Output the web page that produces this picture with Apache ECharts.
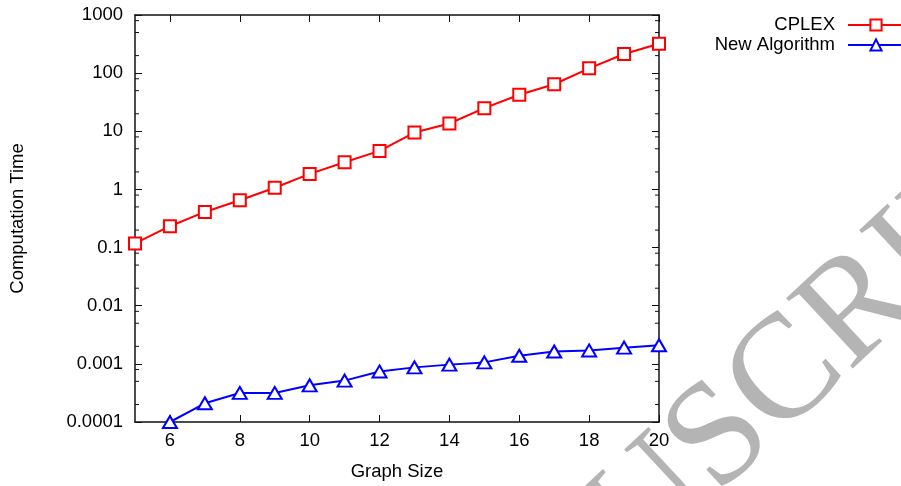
<!DOCTYPE html>
<html>
<head>
<meta charset="utf-8">
<script src="https://cdn.jsdelivr.net/npm/echarts@6/dist/echarts.min.js"></script>
<style>
html,body{margin:0;padding:0;background:#fff;}
#c{width:901px;height:486px;}
</style>
</head>
<body>
<div id="c"></div>
<script>
const graphSize = [5,6,7,8,9,10,11,12,13,14,15,16,17,18,19,20];
const cplexTime = [0.118,0.233,0.41,0.65,1.07,1.85,2.94,4.6,9.5,13.6,25,42.5,64.5,121,213,320];
const newAlgTime = [null,0.0001,0.00021,0.000316,0.000316,0.000427,0.000515,0.00074,0.00087,0.00097,0.00106,0.00138,0.00163,0.0017,0.0019,0.00209];
const xTickValues = [6,8,10,12,14,16,18,20];
const yTickLabels = ['0.0001','0.001','0.01','0.1','1','10','100','1000'];
const minorMultipliers = [2,5,8];
const seriesNames = ['CPLEX','New Algorithm'];

const X_MIN = 5, X_MAX = 20, Y_MIN = 0.0001, Y_MAX = 1000;
const FONT = 'Liberation Sans, Arial, sans-serif';
const FS = 18.5;
const AX = '#111';

const minorVals = [];
for (let d = -4; d <= 2; d++) {
  for (const m of minorMultipliers) minorVals.push(m * Math.pow(10, d));
}

const yLabel = v => {
  const i = Math.round(Math.log10(v)) + 4;
  return yTickLabels[i] !== undefined ? yTickLabels[i] : '';
};

const chart = echarts.init(document.getElementById('c'), null, {renderer:'canvas'});
chart.setOption({
  backgroundColor:'#fff',
  animation:false,
  textStyle:{fontFamily:FONT},
  grid:{left:135,right:242,top:15,bottom:61,containLabel:false},
  legend:{
    data:seriesNames,
    orient:'vertical',
    right:-4, top:15,
    align:'right',
    padding:0,
    itemGap:0,
    itemWidth:56,
    itemHeight:14,
    textStyle:{fontFamily:FONT,fontSize:FS,color:'#000',lineHeight:20,padding:[0,8,0,0]}
  },
  xAxis:[{
    type:'value', min:X_MIN, max:X_MAX, position:'bottom',
    name:'Graph Size', nameLocation:'middle', nameGap:40,
    nameTextStyle:{fontFamily:FONT,fontSize:FS,color:'#000'},
    axisLine:{show:true,onZero:false,lineStyle:{color:AX,width:1.5}},
    axisTick:{show:true,inside:true,length:7,customValues:xTickValues,lineStyle:{color:AX,width:1}},
    axisLabel:{show:true,margin:9,customValues:xTickValues,fontFamily:FONT,fontSize:FS,color:'#000'},
    splitLine:{show:false}
  },{
    type:'value', min:X_MIN, max:X_MAX, position:'top',
    axisLine:{show:true,onZero:false,lineStyle:{color:AX,width:1.5}},
    axisTick:{show:true,inside:true,length:7,customValues:xTickValues,lineStyle:{color:AX,width:1}},
    axisLabel:{show:false},
    splitLine:{show:false}
  }],
  yAxis:[{
    type:'log', logBase:10, min:Y_MIN, max:Y_MAX, position:'left',
    name:'Computation Time', nameLocation:'middle', nameGap:108, nameRotate:90,
    nameTextStyle:{fontFamily:FONT,fontSize:FS,color:'#000'},
    axisLine:{show:true,onZero:false,lineStyle:{color:AX,width:1.5}},
    axisTick:{show:true,inside:true,length:7,lineStyle:{color:AX,width:1}},
    axisLabel:{show:true,margin:12,formatter:yLabel,fontFamily:FONT,fontSize:FS,color:'#000'},
    minorTick:{show:false},
    splitLine:{show:false}
  },{
    type:'log', logBase:10, min:Y_MIN, max:Y_MAX, position:'right',
    axisLine:{show:true,onZero:false,lineStyle:{color:AX,width:1.5}},
    axisTick:{show:true,inside:true,length:7,lineStyle:{color:AX,width:1}},
    axisLabel:{show:false},
    splitLine:{show:false}
  }],
  graphic:[{
    type:'text', x:612, y:540, rotation:43*Math.PI/180, z:-1, silent:true,
    style:{text:'USCRIPT', font:'148px "Liberation Serif", "DejaVu Serif", serif', fill:'#b4b4b4', align:'left', verticalAlign:'middle'}
  }],
  series:[{
    name:seriesNames[0], type:'line',
    data:graphSize.map((x,i)=>[x,cplexTime[i]]),
    symbol:'emptyRect', symbolSize:12,
    lineStyle:{color:'#ff0000',width:2},
    itemStyle:{color:'#ff0000',borderWidth:2},
    z:3
  },{
    name:seriesNames[1], type:'line',
    data:graphSize.map((x,i)=>[x,newAlgTime[i]]).filter(p=>p[1]!==null),
    symbol:'emptyTriangle', symbolSize:[14,12],
    lineStyle:{color:'#0000ff',width:2},
    itemStyle:{color:'#0000ff',borderWidth:2},
    z:3
  },{
    name:'minorTicks', type:'custom', silent:true,
    xAxisIndex:0, yAxisIndex:0,
    data:minorVals.map(v=>[X_MIN,v]),
    encode:{x:0,y:1},
    renderItem:function(params, api){
      const v = api.value(1);
      const pL = api.coord([X_MIN, v]);
      const pR = api.coord([X_MAX, v]);
      return {type:'group', children:[
        {type:'line', shape:{x1:pL[0],y1:pL[1],x2:pL[0]+4,y2:pL[1]}, style:{stroke:AX,lineWidth:1}},
        {type:'line', shape:{x1:pR[0]-4,y1:pR[1],x2:pR[0],y2:pR[1]}, style:{stroke:AX,lineWidth:1}}
      ]};
    }
  }]
});
</script>
</body>
</html>
